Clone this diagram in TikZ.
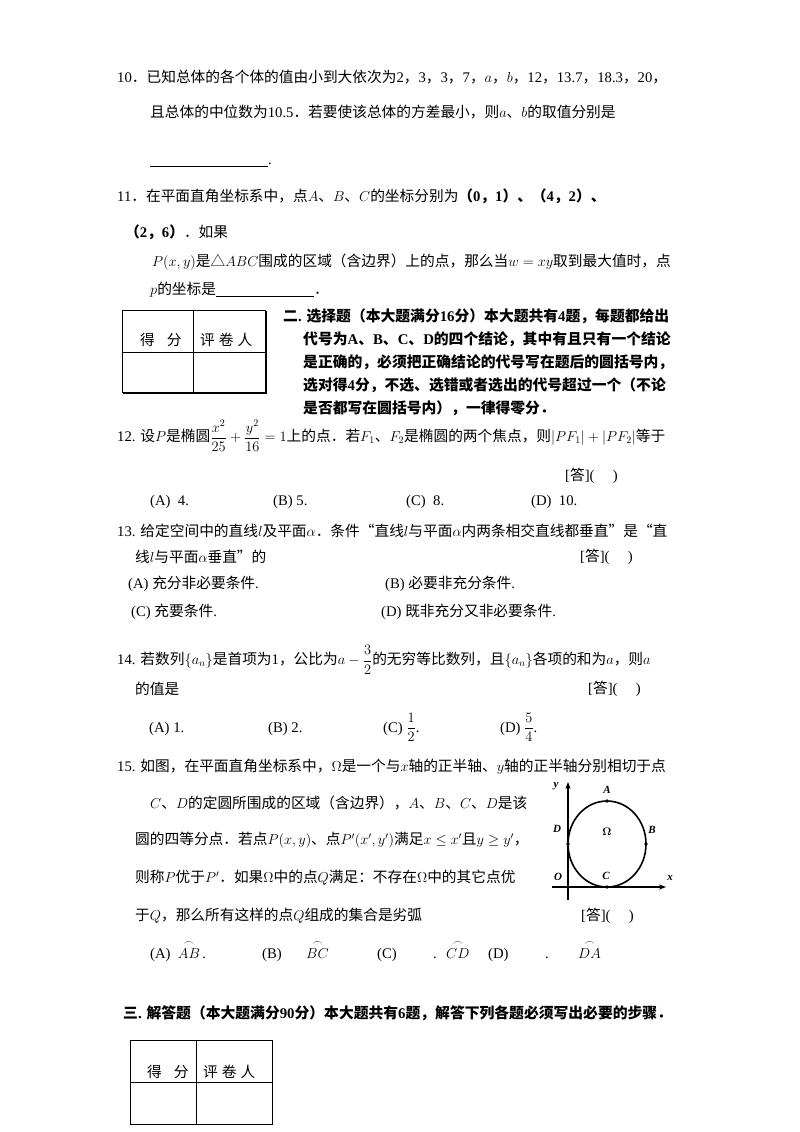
\documentclass[tikz,border=0pt]{standalone}
\usepackage{amsmath}
\usepackage{fontspec}
\setmainfont{Liberation Serif}
\newfontfamily\cjk{Noto Sans CJK SC}
\XeTeXinterchartokenstate=1
\newXeTeXintercharclass\cjkclass
\count255="4E00 \loop\XeTeXcharclass\count255=\cjkclass\advance\count255 by 1 \ifnum\count255<"9FFF\repeat
\count255="3000 \loop\XeTeXcharclass\count255=\cjkclass\advance\count255 by 1 \ifnum\count255<"3040\repeat
\count255="FF00 \loop\XeTeXcharclass\count255=\cjkclass\advance\count255 by 1 \ifnum\count255<"FF60\repeat
\XeTeXcharclass"201C=\cjkclass \XeTeXcharclass"201D=\cjkclass \XeTeXcharclass"25B3=\cjkclass
\XeTeXinterchartoks 0 \cjkclass={\begingroup\cjk}
\XeTeXinterchartoks 4095 \cjkclass={\begingroup\cjk}
\XeTeXinterchartoks \cjkclass 0={\endgroup}
\XeTeXinterchartoks \cjkclass 4095={\endgroup}
\usetikzlibrary{arrows.meta}
\newcommand{\myarc}[1]{\overset{\frown}{#1}}
\tikzset{t/.style={anchor=west,inner sep=0pt,font=\fontsize{14.7}{16}\selectfont},
 tb/.style={t,anchor=base west},
 hb/.style={anchor=west,inner sep=0pt,font=\fontsize{14.8}{16}\selectfont\bfseries},
 sm/.style={inner sep=0pt,font=\fontsize{11}{12}\selectfont\bfseries\itshape}}
\begin{document}
\begin{tikzpicture}[x=1pt,y=-1pt]
\useasboundingbox[fill=white] (0,0) rectangle (800,1132);
% Q10
\node[t] (q10a) at (117,77) {10．已知总体的各个体的值由小到大依次为2，3，3，7，$a$，$b$，12，13.7，18.3，20，};
\node[t] (q10b) at (150,112) {且总体的中位数为10.5．若要使该总体的方差最小，则$a$、$b$的取值分别是};
\node[t] (q10c) at (150,165) {\rule[-2pt]{118pt}{0.6pt}.};
% Q11
\node[t] (q11a) at (117,196) {11．在平面直角坐标系中，点$A$、$B$、$C$的坐标分别为\textbf{（0，1）、（4，2）、}};
\node[t] (q11b) at (125,232) {\textbf{（2，6）}．如果};
\node[t] (q11c) at (152,262) {$P(x,y)$是△$ABC$围成的区域（含边界）上的点，那么当$w=xy$取到最大值时，点};
\node[t] (q11d) at (150,290) {$p$的坐标是\rule[-2pt]{98pt}{0.6pt}．};
% table 1
\draw[line width=0.8pt] (122,310) rectangle (265,392);
\draw[line width=0.8pt] (122,352) -- (265,352) (193,310) -- (193,392);
\draw[line width=1.6pt] (266,311) -- (266,393) -- (123,393);
\node[t] (tb1a) at (140,340) {得\hspace{12pt}分};
\node[t] (tb1b) at (200,340) {评\hspace{4pt}卷\hspace{4pt}人};
% section 2
\node[hb] (s2a) at (283,316) {二. 选择题（本大题满分16分）本大题共有4题，每题都给出};
\node[hb] (s2b) at (303,339) {代号为A、B、C、D的四个结论，其中有且只有一个结论};
\node[hb] (s2c) at (303,362) {是正确的，必须把正确结论的代号写在题后的圆括号内，};
\node[hb] (s2d) at (303,385) {选对得4分，不选、选错或者选出的代号超过一个（不论};
\node[hb] (s2e) at (303,408) {是否都写在圆括号内），一律得零分．};
% Q12
\node[t] (q12) at (117,436) {12. 设$P$是椭圆$\dfrac{x^2}{25}+\dfrac{y^2}{16}=1$上的点．若$F_1$、$F_2$是椭圆的两个焦点，则$|PF_1|+|PF_2|$等于};
\node[t] (a12) at (565,476) {[答](\quad\ )};
\node[t] (o12a) at (150,502) {(A)\ \ 4.};
\node[t] (o12b) at (273,502) {(B) 5.};
\node[t] (o12c) at (406,502) {(C)\ \ 8.};
\node[t] (o12d) at (531,502) {(D)\ \ 10.};
% Q13
\node[t] (q13a) at (117,531) {13. 给定空间中的直线$l$及平面$\alpha$．条件“直线$l$与平面$\alpha$内两条相交直线都垂直”是“直};
\node[t] (q13b) at (135,557) {线$l$与平面$\alpha$垂直”的};
\node[t] (a13) at (580,557) {[答](\quad\ )};
\node[t] (o13a) at (128,584) {(A)\ 充分非必要条件.};
\node[t] (o13b) at (385,584) {(B)\ 必要非充分条件.};
\node[t] (o13c) at (131,612) {(C)\ 充要条件.};
\node[t] (o13d) at (381,612) {(D)\ 既非充分又非必要条件.};
% Q14
\node[t] (q14a) at (117,660) {14. 若数列$\{a_n\}$是首项为1，公比为$a-\dfrac{3}{2}$的无穷等比数列，且$\{a_n\}$各项的和为$a$，则$a$};
\node[t] (q14b) at (135,689) {的值是};
\node[t] (a14) at (588,689) {[答](\quad\ )};
\node[tb] (o14a) at (149,732) {(A) 1.};
\node[tb] (o14b) at (268,732) {(B) 2.};
\node[tb] (o14c) at (383,732) {(C) $\dfrac12$.};
\node[tb] (o14d) at (500,732) {(D) $\dfrac54$.};
% Q15
\node[t] (q15a) at (117,767) {15. 如图，在平面直角坐标系中，$\Omega$是一个与$x$轴的正半轴、$y$轴的正半轴分别相切于点};
\node[t] (q15b) at (150,803) {$C$、$D$的定圆所围成的区域（含边界），$A$、$B$、$C$、$D$是该};
\node[t] (q15c) at (135,840) {圆的四等分点．若点$P(x,y)$、点$P'(x',y')$满足$x\le x'$且$y\ge y'$，};
\node[t] (q15d) at (135,878) {则称$P$优于$P'$．如果$\Omega$中的点$Q$满足：不存在$\Omega$中的其它点优};
\node[t] (q15e) at (135,916) {于$Q$，那么所有这样的点$Q$组成的集合是劣弧};
\node[t] (a15) at (581,916) {[答](\quad\ )};
\node[tb] (o15a) at (150,958) {(A)\ \ $\myarc{AB}$\,.};
\node[tb] (o15b) at (262,958) {(B)};
\node[tb] (o15bb) at (306,958) {$\myarc{BC}$};
\node[tb] (o15c) at (377,958) {(C)};
\node[tb] (o15cd) at (433,958) {.};
\node[tb] (o15cc) at (446,958) {$\myarc{CD}$};
\node[tb] (o15d) at (488,958) {(D)};
\node[tb] (o15dd) at (545,958) {.};
\node[tb] (o15da) at (578,958) {$\myarc{DA}$};
% figure
\draw[line width=1.2pt,-{Stealth[length=7pt]}] (568,900) -- (568,782);
\draw[line width=1.2pt,-{Stealth[length=7pt]}] (552,887) -- (666,887);
\draw[line width=1.6pt] (607,844) ellipse (39 and 43);
\foreach \p in {(607,801),(646,844),(568,844),(607,887)} \fill \p circle (1.8);
\node[sm] (ly) at (556,786) {y};
\node[sm] (lA) at (607,790) {A};
\node[sm] (lD) at (557,829) {D};
\node[sm,font=\fontsize{11}{12}\selectfont\bfseries] (lW) at (607,832) {$\boldsymbol\Omega$};
\node[sm] (lB) at (652,830) {B};
\node[sm] (lO) at (558,877) {O};
\node[sm] (lC) at (606,876) {C};
\node[sm] (lx) at (670,878) {x};
% section 3
\node[hb] (s3) at (123,1013) {三. 解答题（本大题满分90分）本大题共有6题，解答下列各题必须写出必要的步骤．};
\draw[line width=0.8pt] (130,1040) rectangle (272,1124);
\draw[line width=0.8pt] (130,1082) -- (272,1082) (196,1040) -- (196,1124);
\node[t] (tb2a) at (147,1072) {得\hspace{12pt}分};
\node[t] (tb2b) at (203,1072) {评\hspace{4pt}卷\hspace{4pt}人};
\end{tikzpicture}
\end{document}
